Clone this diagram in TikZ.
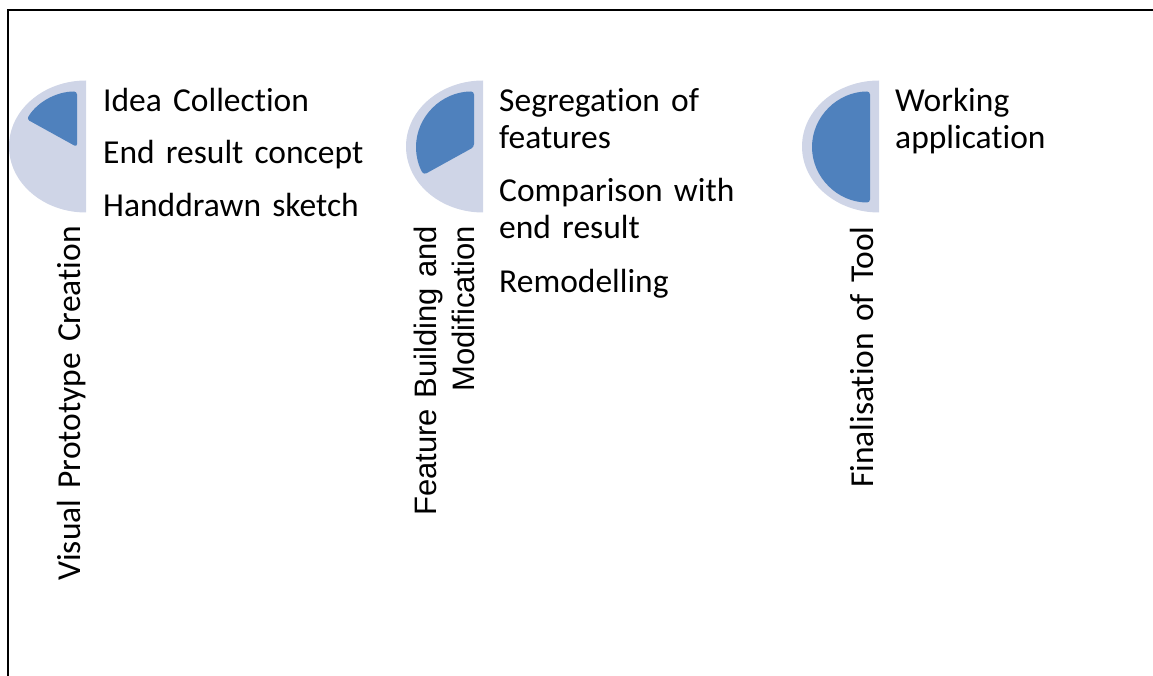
\documentclass[tikz,border=0pt]{standalone}
\usepackage{fontspec}
\setmainfont{Carlito}[Ligatures=NoCommon]
\newfontfamily\arialfont{Liberation Sans}[Ligatures=NoCommon]
\definecolor{lightfill}{HTML}{CFD5E7}
\definecolor{darkfill}{HTML}{4F81BD}
\begin{document}
\begin{tikzpicture}[x=1pt,y=1pt,
  outer/.style={fill=lightfill,draw=none},
  inner/.style={fill=darkfill,draw=none,rounded corners=3pt},
  item/.style={anchor=base west,inner sep=0pt,text width=300pt,align=left,
    font=\fontsize{33.5}{37.5}\selectfont},
  vlabel/.style={anchor=base east,inner sep=0pt,rotate=90,text width=420pt,align=right,
    font=\fontsize{33.5}{37.5}\selectfont},
  frame/.style={line width=2pt,draw=black}]
\useasboundingbox (0,0) rectangle (1153,-676);
% frame
\coordinate (ftr) at (1153,-10);
\coordinate (ftl) at (8,-10);
\coordinate (fbl) at (8,-676);
\draw[frame] (ftr) -- (ftl) -- (fbl);
% progress half-ellipses
\foreach \fx/\ang/\nm in {86/150/a,483/210/b,879/270/c}{
  \fill[outer] (\fx,-80.5) arc[start angle=90,end angle=270,x radius=77,y radius=66] -- cycle;
  \fill[inner] (\fx-9,-147) -- (\fx-9,-91.5) arc[start angle=90,end angle=\ang,x radius=58,y radius=55.5] -- cycle;
}
% column 1
\node[item] (i1) at (103,-111.5) {Idea Collection};
\node[item] (i2) at (103,-164) {End result concept};
\node[item] (i3) at (103,-216.5) {Handdrawn sketch};
\node[vlabel] (v1) at (80,-226) {Visual Prototype Creation};
% column 2
\node[item] (j1) at (499,-111.5) {Segregation of\\features};
\node[item] (j2) at (499,-201.5) {Comparison with\\end result};
\node[item] (j3) at (499,-292.5) {Remodelling};
\node[vlabel,font=\arialfont\fontsize{31}{38}\selectfont] (v2) at (436,-226) {Feature Building and\\Modification};
% column 3
\node[item] (k1) at (895,-111.5) {Working\\application};
\node[vlabel] (v3) at (873,-226) {Finalisation of Tool};
\end{tikzpicture}
\end{document}
